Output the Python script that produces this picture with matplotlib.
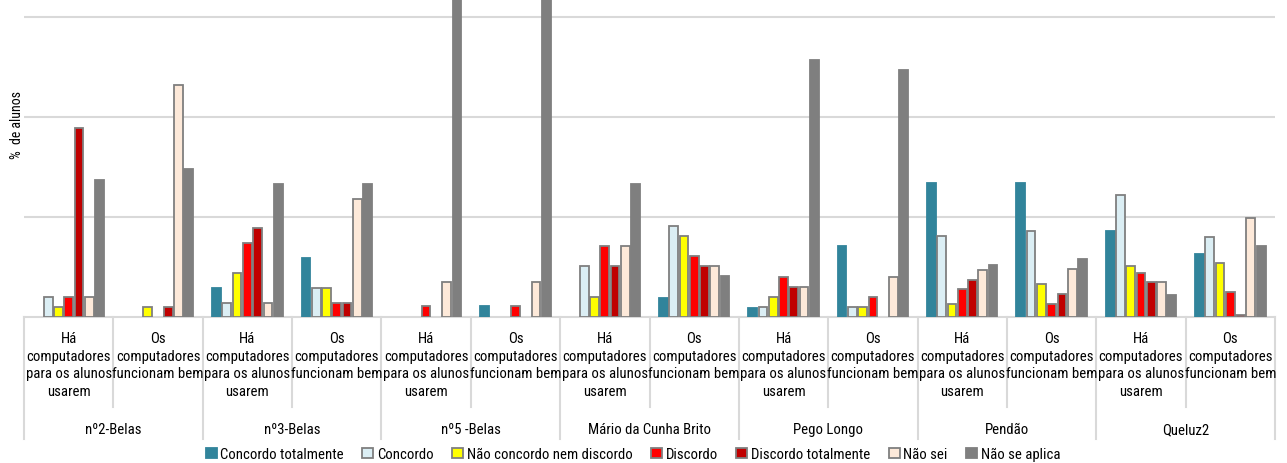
import matplotlib

matplotlib.use("Agg")
import matplotlib.pyplot as plt
import numpy as np
from matplotlib import font_manager
from matplotlib.patches import Patch
from matplotlib.lines import Line2D
from matplotlib.transforms import blended_transform_factory

# ---- data -------------------------------------------------------------
schools = ["nº2-Belas", "nº3-Belas", "nº5 -Belas", "Mário da Cunha Brito",
           "Pego Longo", "Pendão", "Queluz2"]
questions = ["Há\ncomputadores\npara os alunos\nusarem",
             "Os\ncomputadores\nfuncionam bem"]
categories = ["Concordo totalmente", "Concordo", "Não concordo nem discordo",
              "Discordo", "Discordo totalmente", "Não sei", "Não se aplica"]

# one value per (school, question) group, in school order, Há then Os
concordo_totalmente = [0, 0, 2.9, 5.9, 0, 1.1, 0, 1.9, 0.9, 7.1, 13.4, 13.4, 8.6, 6.3]
concordo = [2.0, 0, 1.4, 2.9, 0, 0, 5.1, 9.1, 1.0, 1.0, 8.1, 8.6, 12.2, 8.0]
nem_nem = [1.0, 1.0, 4.4, 2.9, 0, 0, 2.0, 8.1, 2.0, 1.0, 1.3, 3.3, 5.1, 5.4]
discordo = [2.0, 0, 7.4, 1.4, 1.1, 1.1, 7.1, 6.1, 4.0, 2.0, 2.8, 1.3, 4.4, 2.5]
discordo_totalmente = [18.9, 1.0, 8.9, 1.4, 0, 0, 5.1, 5.1, 3.0, 0, 3.7, 2.3, 3.5, 0.2]
nao_sei = [2.0, 23.2, 1.4, 11.8, 3.5, 3.5, 7.1, 5.1, 3.0, 4.0, 4.7, 4.8, 3.5, 9.9]
nao_se_aplica = [13.7, 14.8, 13.3, 13.3, 45.0, 45.0, 13.3, 4.1, 25.7, 24.7, 5.2, 5.8, 2.2, 7.1]

series = [concordo_totalmente, concordo, nem_nem, discordo,
          discordo_totalmente, nao_sei, nao_se_aplica]
faces = ["#31849b", "#dbeef4", "#ffff00", "#ff0000", "#c00000", "#fde9d9", "#7f7f7f"]
edges = ["#31849b", "#7f7f7f", "#7f7f7f", "#7f7f7f", "#7f7f7f", "#7f7f7f", "#7f7f7f"]

# ---- font: a narrow sans, like the original Arial Narrow ----------------
names = {f.name for f in font_manager.fontManager.ttflist}
prefs = ["Liberation Sans Narrow", "Arial Narrow", "Roboto Condensed",
         "PT Sans Narrow", "Archivo Narrow", "Asap Condensed", "DejaVu Sans"]
family = next(p for p in prefs if p in names or p == "DejaVu Sans")
plt.rcParams["font.family"] = [family, "DejaVu Sans"]
FS = 10.6

W, H = 1287, 464
fig = plt.figure(figsize=(W / 100, H / 100), dpi=100)
ax = fig.add_axes([24 / W, (H - 318) / H, (1275 - 24) / W, 318 / H])

n_groups = len(concordo)
x = np.arange(n_groups)
slot = 0.115
for k, (vals, fc, ec) in enumerate(zip(series, faces, edges)):
    vals = np.asarray(vals, dtype=float)
    keep = vals > 0
    ax.bar(x[keep] + (k - 3) * slot, vals[keep], width=0.098,
           color=fc, edgecolor=ec, linewidth=1.3, zorder=3)

ax.set_xlim(-0.5, n_groups - 0.5)
ax.set_ylim(0, 31.8)
ax.set_yticks([10, 20, 30])
ax.yaxis.grid(True, color="#d9d9d9", linewidth=1.5, zorder=0)
ax.tick_params(left=False, labelleft=False, bottom=False, labelbottom=False)
for s in ("top", "right", "left"):
    ax.spines[s].set_visible(False)
ax.spines["bottom"].set_color("#d9d9d9")
ax.spines["bottom"].set_linewidth(1.5)

# ---- two-level category axis -----------------------------------------
tr = blended_transform_factory(ax.transData, fig.transFigure)
py = lambda p: (H - p) / H  # pixel row -> figure fraction
for i in range(n_groups + 1):
    bottom = 440 if i % 2 == 0 else 408
    ax.add_line(Line2D([i - 0.5, i - 0.5], [py(318), py(bottom)], transform=tr,
                       color="#d9d9d9", linewidth=1.5, clip_on=False))
for i in range(n_groups):
    ax.text(i, py(332), questions[i % 2], transform=tr, ha="center", va="top",
            fontsize=FS, linespacing=1.33, color="#000000")
for j, name in enumerate(schools):
    ax.text(2 * j + 0.5, py(430), name, transform=tr, ha="center", va="center",
            fontsize=FS, color="#000000")

fig.text(17 / W, py(125), "%  de alunos", rotation=90, ha="center", va="center",
         fontsize=10)

handles = [Patch(facecolor=fc, edgecolor=ec, linewidth=1.3) for fc, ec in zip(faces, edges)]
fig.legend(handles, categories, loc="center", bbox_to_anchor=(633 / W, py(455)),
           ncol=7, frameon=False, fontsize=FS, handlelength=0.75, handleheight=0.75,
           handletextpad=0.25, columnspacing=1.25, borderpad=0)

fig.savefig("out.png", dpi=100)
